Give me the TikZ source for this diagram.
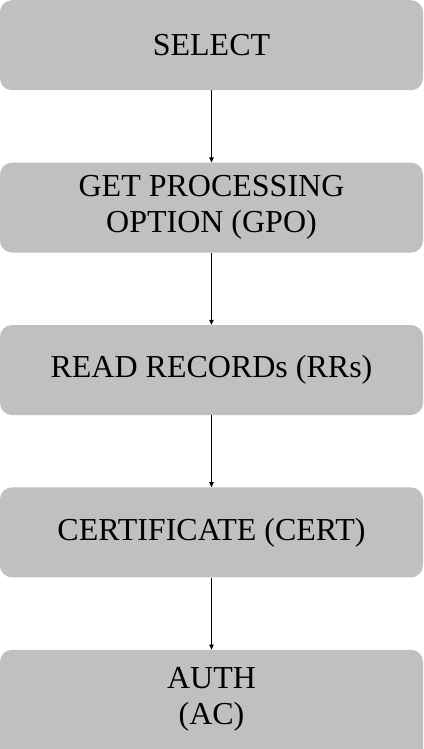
\documentclass[tikz,border=0pt]{standalone}
\usepackage{fontspec}
\setmainfont{Liberation Serif}
\usetikzlibrary{positioning,arrows.meta}
\definecolor{boxgray}{RGB}{192,192,192}
\begin{document}
\begin{tikzpicture}[stepbox/.style={rectangle, rounded corners=12pt, fill=boxgray, minimum width=423pt, minimum height=90pt, inner sep=0pt, align=center, font=\fontsize{32}{36}\selectfont},
  steptext/.style={align=center, inner sep=0pt, font=\fontsize{32}{36}\selectfont},
  node distance=72pt, >={Triangle[length=5pt,width=4.5pt]}]
\useasboundingbox (0,0) rectangle (423pt,-749pt);
\node [stepbox, anchor=north] (select) at (211.5pt,0) {SELECT};
\node [stepbox, below=of select] (gpo) {GET PROCESSING\\OPTION (GPO)};
\node [stepbox, below=of gpo] (rr) {READ RECORDs (RRs)};
\node [stepbox, below=of rr] (cert) {CERTIFICATE (CERT)};
\node [stepbox, below=of cert, minimum height=130pt] (auth) {};
\node [steptext] (ac) at ([yshift=-50pt]auth.north) {AUTH\\(AC)};

\path[->, line width=0.8pt] (select) edge (gpo);
\path[->, line width=0.8pt] (gpo) edge (rr);
\path[->, line width=0.8pt] (rr) edge (cert);
\path[->, line width=0.8pt] (cert) edge (auth);
\end{tikzpicture}
\end{document}
